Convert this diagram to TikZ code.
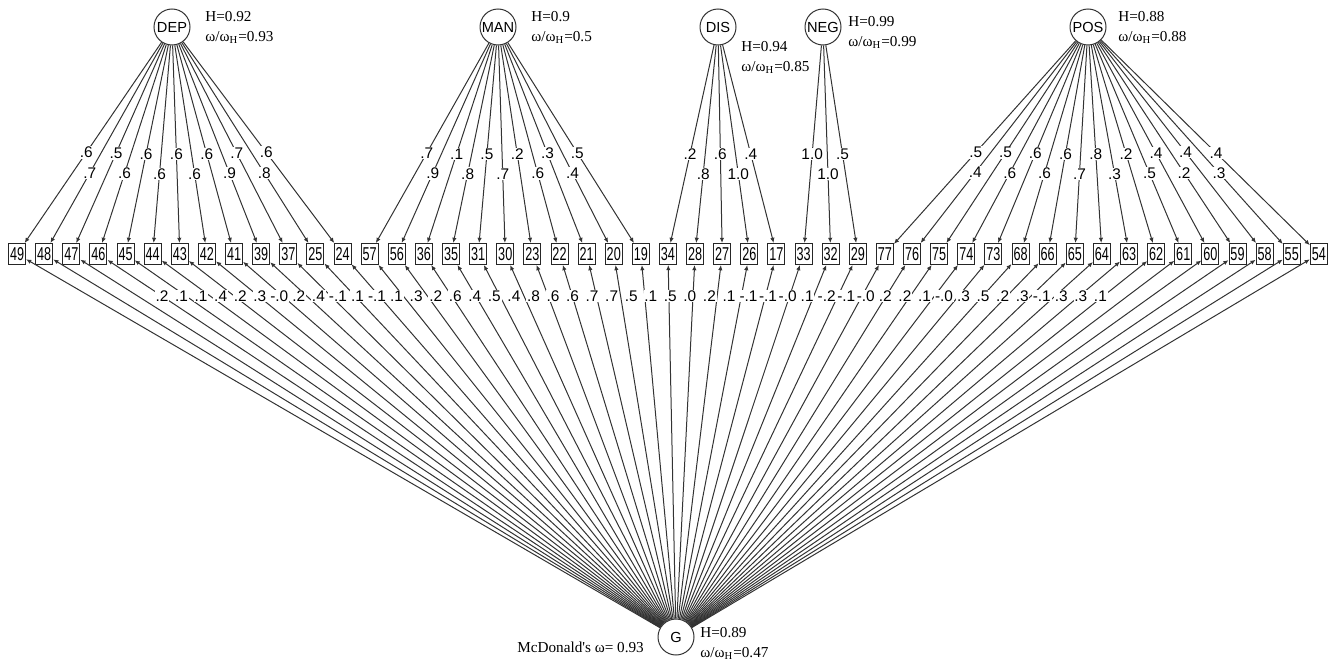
\documentclass[tikz,border=0pt]{standalone}
\usepackage{fontspec}
\setmainfont{Liberation Sans}
\newfontfamily\statfont{Liberation Serif}
\newfontfamily\itemfont[FakeStretch=0.68]{Liberation Sans}
\usetikzlibrary{arrows.meta}
\tikzset{
	factor/.style={circle,draw=black!80,line width=0.5pt,minimum size=18pt,inner sep=0pt,font=\fontsize{7.3}{8}\selectfont},
	itembox/.style={rectangle,draw=black!85,line width=0.5pt,minimum width=8.5pt,minimum height=10.5pt,inner sep=0.3pt,font=\itemfont\fontsize{9.3}{10}\selectfont},
	load/.style={fill=white,inner sep=0.4pt,font=\fontsize{7.7}{8}\selectfont},
	hstat/.style={anchor=north west,align=left,inner sep=0pt,font=\statfont\fontsize{7.6}{10}\selectfont},
	arr/.style={->,line width=0.5pt,draw=black!80}
}
\begin{document}
\begin{tikzpicture}[x=0.5pt,y=-0.5pt,>={Latex[length=2.6pt,width=2.2pt]}]
	\useasboundingbox (0,0) rectangle (1339,664);
	% factors
	\node (DEP) [factor] at (172,27) {DEP};
	\node (MAN) [factor] at (498,27) {MAN};
	\node (DIS) [factor] at (718,27) {DIS};
	\node (NEG) [factor] at (823,27) {NEG};
	\node (POS) [factor] at (1088,27) {POS};
	\node (G) [factor] at (676,637) {G};
	% reliabilities
	\node (DEPh) [hstat] at (205,11) {H=0.92\\ω/ω\textsubscript{H}=0.93};
	\node (MANh) [hstat] at (531,11) {H=0.9\\ω/ω\textsubscript{H}=0.5};
	\node (DISh) [hstat] at (741,41) {H=0.94\\ω/ω\textsubscript{H}=0.85};
	\node (NEGh) [hstat] at (848,16) {H=0.99\\ω/ω\textsubscript{H}=0.99};
	\node (POSh) [hstat] at (1118,11) {H=0.88\\ω/ω\textsubscript{H}=0.88};
	\node (Gh) [hstat] at (700,627) {H=0.89\\ω/ω\textsubscript{H}=0.47};
	\node (mcd) [hstat,anchor=west] at (517,647) {McDonald's ω= 0.93};
	% items
	\matrix (items) at (668,254) [column sep=4.56pt,nodes=itembox]
	{
	\node (49) {49}; & \node (48) {48}; & \node (47) {47}; & \node (46) {46}; & \node (45) {45}; & \node (44) {44}; & \node (43) {43}; & \node (42) {42}; & \node (41) {41}; & \node (39) {39}; & \node (37) {37}; & \node (25) {25}; & \node (24) {24}; &
	\node (57) {57}; & \node (56) {56}; & \node (36) {36}; & \node (35) {35}; & \node (31) {31}; & \node (30) {30}; & \node (23) {23}; & \node (22) {22}; & \node (21) {21}; & \node (20) {20}; & \node (19) {19}; &
	\node (34) {34}; & \node (28) {28}; & \node (27) {27}; & \node (26) {26}; & \node (17) {17}; &
	\node (33) {33}; & \node (32) {32}; & \node (29) {29}; &
	\node (77) {77}; & \node (76) {76}; & \node (75) {75}; & \node (74) {74}; & \node (73) {73}; & \node (68) {68}; & \node (66) {66}; & \node (65) {65}; & \node (64) {64}; & \node (63) {63}; & \node (62) {62}; & \node (61) {61}; & \node (60) {60}; & \node (59) {59}; & \node (58) {58}; & \node (55) {55}; & \node (54) {54}; \\
	};
	% DEP
	\draw [arr] (DEP) -- (49) node [load,pos=.55] {.6};
	\draw [arr] (DEP) -- (48) node [load,pos=.65] {.7};
	\draw [arr] (DEP) -- (47) node [load,pos=.55] {.5};
	\draw [arr] (DEP) -- (46) node [load,pos=.65] {.6};
	\draw [arr] (DEP) -- (45) node [load,pos=.55] {.6};
	\draw [arr] (DEP) -- (44) node [load,pos=.65] {.6};
	\draw [arr] (DEP) -- (43) node [load,pos=.55] {.6};
	\draw [arr] (DEP) -- (42) node [load,pos=.65] {.6};
	\draw [arr] (DEP) -- (41) node [load,pos=.55] {.6};
	\draw [arr] (DEP) -- (39) node [load,pos=.65] {.9};
	\draw [arr] (DEP) -- (37) node [load,pos=.55] {.7};
	\draw [arr] (DEP) -- (25) node [load,pos=.65] {.8};
	\draw [arr] (DEP) -- (24) node [load,pos=.55] {.6};
	% MAN
	\draw [arr] (MAN) -- (57) node [load,pos=.55] {.7};
	\draw [arr] (MAN) -- (56) node [load,pos=.65] {.9};
	\draw [arr] (MAN) -- (36) node [load,pos=.55] {.1};
	\draw [arr] (MAN) -- (35) node [load,pos=.65] {.8};
	\draw [arr] (MAN) -- (31) node [load,pos=.55] {.5};
	\draw [arr] (MAN) -- (30) node [load,pos=.65] {.7};
	\draw [arr] (MAN) -- (23) node [load,pos=.55] {.2};
	\draw [arr] (MAN) -- (22) node [load,pos=.65] {.6};
	\draw [arr] (MAN) -- (21) node [load,pos=.55] {.3};
	\draw [arr] (MAN) -- (20) node [load,pos=.65] {.4};
	\draw [arr] (MAN) -- (19) node [load,pos=.55] {.5};
	% DIS
	\draw [arr] (DIS) -- (34) node [load,pos=.55] {.2};
	\draw [arr] (DIS) -- (28) node [load,pos=.65] {.8};
	\draw [arr] (DIS) -- (27) node [load,pos=.55] {.6};
	\draw [arr] (DIS) -- (26) node [load,pos=.65] {1.0};
	\draw [arr] (DIS) -- (17) node [load,pos=.55] {.4};
	% NEG
	\draw [arr] (NEG) -- (33) node [load,pos=.55] {1.0};
	\draw [arr] (NEG) -- (32) node [load,pos=.65] {1.0};
	\draw [arr] (NEG) -- (29) node [load,pos=.55] {.5};
	% POS
	\draw [arr] (POS) -- (77) node [load,pos=.55] {.5};
	\draw [arr] (POS) -- (76) node [load,pos=.65] {.4};
	\draw [arr] (POS) -- (75) node [load,pos=.55] {.5};
	\draw [arr] (POS) -- (74) node [load,pos=.65] {.6};
	\draw [arr] (POS) -- (73) node [load,pos=.55] {.6};
	\draw [arr] (POS) -- (68) node [load,pos=.65] {.6};
	\draw [arr] (POS) -- (66) node [load,pos=.55] {.6};
	\draw [arr] (POS) -- (65) node [load,pos=.65] {.7};
	\draw [arr] (POS) -- (64) node [load,pos=.55] {.8};
	\draw [arr] (POS) -- (63) node [load,pos=.65] {.3};
	\draw [arr] (POS) -- (62) node [load,pos=.55] {.2};
	\draw [arr] (POS) -- (61) node [load,pos=.65] {.5};
	\draw [arr] (POS) -- (60) node [load,pos=.55] {.4};
	\draw [arr] (POS) -- (59) node [load,pos=.65] {.2};
	\draw [arr] (POS) -- (58) node [load,pos=.55] {.4};
	\draw [arr] (POS) -- (55) node [load,pos=.65] {.3};
	\draw [arr] (POS) -- (54) node [load,pos=.55] {.4};
	% G
	\draw [arr] (G) -- (49); \draw [arr] (G) -- (48); \draw [arr] (G) -- (47); \draw [arr] (G) -- (46);
	\draw [arr] (G) -- (45); \draw [arr] (G) -- (44); \draw [arr] (G) -- (43); \draw [arr] (G) -- (42);
	\draw [arr] (G) -- (41); \draw [arr] (G) -- (39); \draw [arr] (G) -- (37); \draw [arr] (G) -- (25);
	\draw [arr] (G) -- (24); \draw [arr] (G) -- (57); \draw [arr] (G) -- (56); \draw [arr] (G) -- (36);
	\draw [arr] (G) -- (35); \draw [arr] (G) -- (31); \draw [arr] (G) -- (30); \draw [arr] (G) -- (23);
	\draw [arr] (G) -- (22); \draw [arr] (G) -- (21); \draw [arr] (G) -- (20); \draw [arr] (G) -- (19);
	\draw [arr] (G) -- (34); \draw [arr] (G) -- (28); \draw [arr] (G) -- (27); \draw [arr] (G) -- (26);
	\draw [arr] (G) -- (17); \draw [arr] (G) -- (33); \draw [arr] (G) -- (32); \draw [arr] (G) -- (29);
	\draw [arr] (G) -- (77); \draw [arr] (G) -- (76); \draw [arr] (G) -- (75); \draw [arr] (G) -- (74);
	\draw [arr] (G) -- (73); \draw [arr] (G) -- (68); \draw [arr] (G) -- (66); \draw [arr] (G) -- (65);
	\draw [arr] (G) -- (64); \draw [arr] (G) -- (63); \draw [arr] (G) -- (62); \draw [arr] (G) -- (61);
	\draw [arr] (G) -- (60); \draw [arr] (G) -- (59); \draw [arr] (G) -- (58); \draw [arr] (G) -- (55);
	\draw [arr] (G) -- (54);
	% general loadings, one row
	\foreach \v [count=\k from 0] in {.2,.1,.1,.4,.2,.3,-.0,.2,.4,-.1,.1,-.1,.1,.3,.2,.6,.4,.5,.4,.8,.6,.6,.7,.7,.5,.1,.5,.0,.2,.1,-.1,-.1,-.0,.1,-.2,-.1,-.0,.2,.2,.1,-.0,.3,.5,.2,.3,-.1,.3,.3,.1}
		\node (g\k) [load] at (162+19.55*\k,296) {\v};
\end{tikzpicture}
\end{document}
